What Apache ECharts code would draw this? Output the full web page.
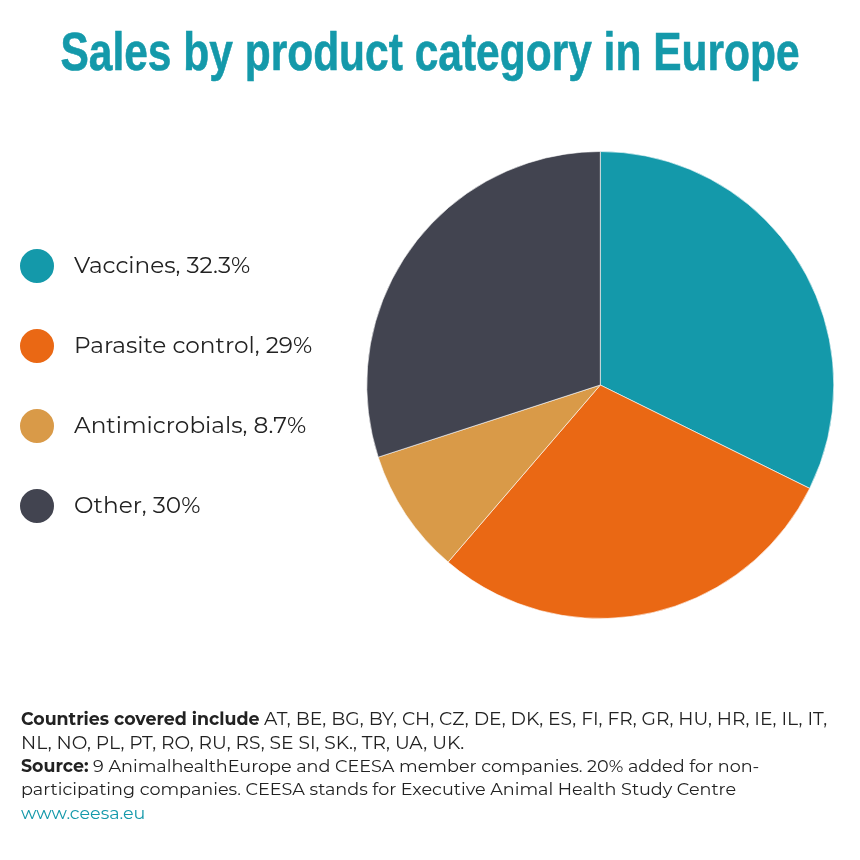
<!DOCTYPE html>
<html>
<head>
<meta charset="utf-8">
<style>
html,body{margin:0;padding:0;background:#fff;}
#chart{width:860px;height:860px;}
</style>
<script src="https://cdn.jsdelivr.net/npm/echarts@6/dist/echarts.min.js"></script>
</head>
<body>
<div id="chart"></div>
<script>
var categories = ['Vaccines', 'Parasite control', 'Antimicrobials', 'Other'];
var shares = [32.3, 29, 8.7, 30];
var colors = ['#1499aa', '#ea6814', '#d99a48', '#424450'];
var noteFont = 'Montserrat, Inter, "Noto Sans", sans-serif';

var pieData = [];
for (var i = 0; i < categories.length; i++) {
	pieData.push({name: categories[i], value: shares[i], itemStyle: {color: colors[i]}});
}

var myChart = echarts.init(document.getElementById('chart'), null, {renderer: 'canvas'});
var option = {
	animation: false,
	backgroundColor: '#fff',
	legend: {
		orient: 'vertical',
		left: 18,
		top: 247,
		padding: 0,
		icon: 'circle',
		itemWidth: 36,
		itemHeight: 36,
		itemGap: 42,
		selectedMode: false,
		data: categories,
		formatter: function (name) {
			return name + ', ' + shares[categories.indexOf(name)] + '%';
		},
		textStyle: {
			color: '#222',
			fontFamily: noteFont,
			fontSize: 23.2,
			padding: [4, 0, 0, 14]
		}
	},
	series: [{
		type: 'pie',
		center: [600.3, 385],
		radius: [0, 233.5],
		startAngle: 90,
		clockwise: true,
		label: {show: false},
		labelLine: {show: false},
		itemStyle: {borderColor: '#fff', borderWidth: 0.6},
		data: pieData
	}],
	graphic: [{
		// no condensed bold font installed, so squeeze the title sideways
		type: 'text',
		x: 430,
		y: 55,
		scaleX: 0.787,
		style: {
			text: 'Sales by product category in Europe',
			align: 'center',
			verticalAlign: 'middle',
			fontFamily: '"Liberation Sans", sans-serif',
			fontWeight: 'bold',
			fontSize: 54,
			fill: '#1499aa',
			stroke: '#1499aa',
			lineWidth: 0.6
		}
	}, {
		type: 'text',
		left: 21,
		top: 708,
		style: {
			fontFamily: noteFont,
			fontSize: 17.6,
			lineHeight: 23.5,
			fill: '#222',
			text: '{b|Countries covered include} {c|AT, BE, BG, BY, CH, CZ, DE, DK, ES, FI, FR, GR, HU, HR, IE, IL, IT,}\n' +
				'{c|NL, NO, PL, PT, RO, RU, RS, SE SI, SK., TR, UA, UK.}\n' +
				'{b|Source:} 9 AnimalhealthEurope and CEESA member companies. 20% added for non-\n' +
				'participating companies. CEESA stands for Executive Animal Health Study Centre\n' +
				'{l|www.ceesa.eu}',
			rich: {
				b: {fontFamily: noteFont, fontSize: 17.4, fontWeight: 'bold', fill: '#222', lineHeight: 23.5},
				c: {fontFamily: noteFont, fontSize: 18.65, fill: '#222', lineHeight: 23.5},
				l: {fontFamily: noteFont, fontSize: 17.5, fill: '#1499aa', lineHeight: 23.5}
			}
		}
	}]
};
myChart.setOption(option);
</script>
</body>
</html>
